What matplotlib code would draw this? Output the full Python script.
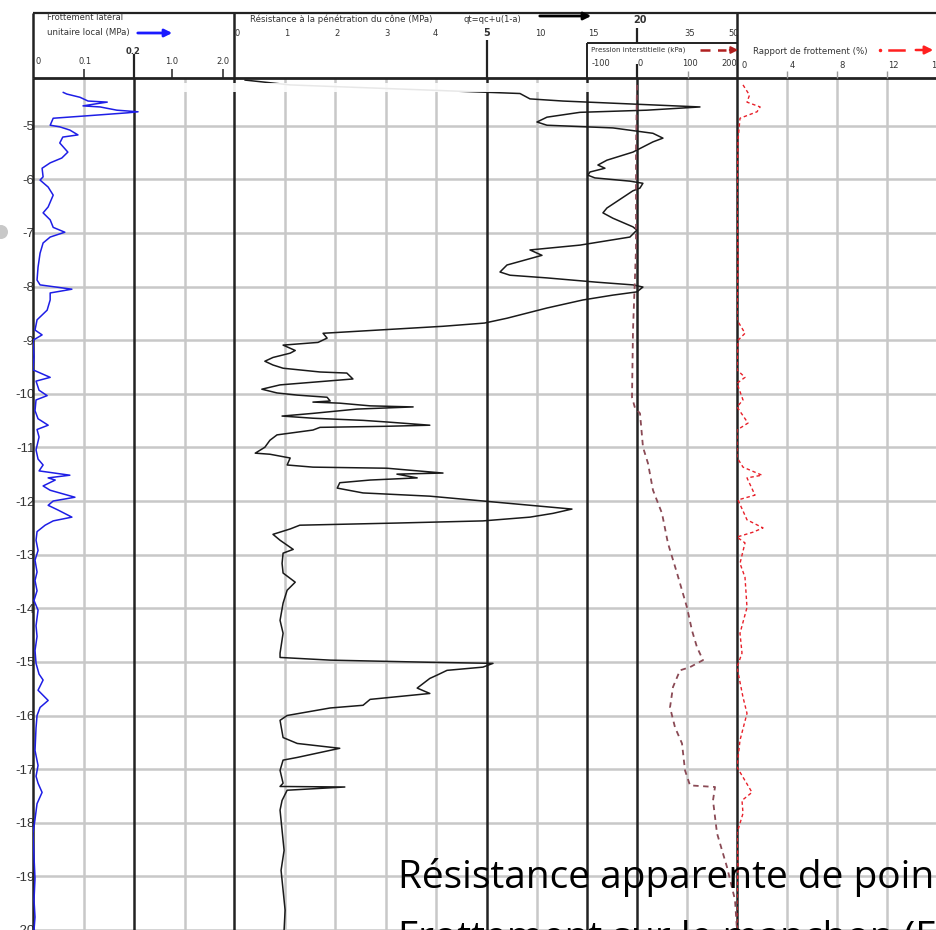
import numpy as np
import matplotlib
matplotlib.use("Agg")
from matplotlib import pyplot
from matplotlib.patches import Rectangle, Circle

W, H = 936, 930

# ---------------- data (elevation in m, negative downwards) ----------------
fs_depth = [-4.38, -4.41, -4.47, -4.54, -4.56, -4.60, -4.63, -4.65, -4.71, -4.74,
            -4.76, -4.82, -4.86, -4.99, -5.02, -5.08, -5.17, -5.21, -5.32, -5.49,
            -5.60, -5.69, -5.79, -5.95, -6.01, -6.14, -6.29, -6.51, -6.62, -6.75,
            -6.89, -6.98, -7.07, -7.18, -7.37, -7.63, -7.87, -7.96, -8.04, -8.11,
            -8.24, -8.43, -8.61, -8.80, -8.89, -8.99, -9.30, -9.54, -9.68, -9.75,
            -9.92, -10.02, -10.10, -10.30, -10.45, -10.57, -10.65, -10.79, -11.03, -11.20,
            -11.31, -11.42, -11.50, -11.55, -11.59, -11.70, -11.78, -11.91, -11.98, -12.06,
            -12.15, -12.28, -12.35, -12.43, -12.55, -12.71, -12.90, -13.08, -13.30, -13.46,
            -13.65, -13.83, -14.01, -14.30, -14.50, -14.76, -15.00, -15.20, -15.31, -15.50,
            -15.69, -15.82, -15.97, -16.20, -16.62, -16.90, -17.10, -17.23, -17.40, -17.61,
            -17.90, -18.16, -18.60, -19.00, -19.40, -19.72, -19.96]
fs_mpa = [0.060, 0.067, 0.093, 0.109, 0.147, 0.119, 0.099, 0.133, 0.166, 0.208,
          0.186, 0.099, 0.040, 0.034, 0.053, 0.073, 0.089, 0.059, 0.053, 0.069,
          0.057, 0.034, 0.018, 0.020, 0.014, 0.030, 0.040, 0.030, 0.020, 0.034,
          0.040, 0.063, 0.034, 0.020, 0.014, 0.010, 0.008, 0.014, 0.077, 0.034,
          0.034, 0.028, 0.008, 0.004, 0.018, 0.000, 0.002, 0.000, 0.034, 0.006,
          0.012, 0.028, 0.006, 0.004, 0.010, 0.030, 0.008, 0.012, 0.006, 0.010,
          0.020, 0.012, 0.073, 0.030, 0.044, 0.020, 0.034, 0.083, 0.040, 0.030,
          0.050, 0.077, 0.040, 0.024, 0.008, 0.006, 0.010, 0.004, 0.008, 0.004,
          0.008, 0.002, 0.010, 0.006, 0.008, 0.004, 0.006, 0.012, 0.020, 0.010,
          0.030, 0.014, 0.008, 0.006, 0.004, 0.010, 0.006, 0.010, 0.018, 0.008,
          0.004, 0.000, 0.002, 0.004, 0.002, 0.004, 0.002]

qc_depth = [-4.15, -4.24, -4.40, -4.50, -4.54, -4.58, -4.61, -4.65, -4.71, -4.75,
            -4.84, -4.93, -4.99, -5.04, -5.14, -5.23, -5.30, -5.49, -5.64, -5.73,
            -5.79, -5.86, -5.92, -5.97, -6.03, -6.07, -6.16, -6.21, -6.53, -6.62,
            -6.72, -6.88, -6.94, -7.07, -7.22, -7.31, -7.41, -7.59, -7.72, -7.78,
            -7.83, -7.91, -7.96, -8.00, -8.09, -8.15, -8.24, -8.39, -8.58, -8.67,
            -8.73, -8.86, -8.95, -9.03, -9.08, -9.18, -9.23, -9.31, -9.38, -9.45,
            -9.51, -9.58, -9.60, -9.71, -9.77, -9.82, -9.90, -9.97, -10.01, -10.05,
            -10.12, -10.14, -10.16, -10.21, -10.23, -10.27, -10.35, -10.40, -10.44, -10.48,
            -10.51, -10.57, -10.59, -10.61, -10.66, -10.75, -10.85, -10.98, -11.09, -11.11,
            -11.18, -11.31, -11.35, -11.37, -11.46, -11.48, -11.55, -11.59, -11.64, -11.74,
            -11.83, -11.89, -11.98, -12.06, -12.13, -12.21, -12.28, -12.35, -12.39, -12.43,
            -12.50, -12.60, -12.71, -12.88, -12.95, -13.14, -13.32, -13.49, -13.64, -13.88,
            -14.20, -14.44, -14.81, -14.89, -14.94, -14.98, -15.00, -15.07, -15.13, -15.22,
            -15.28, -15.46, -15.56, -15.67, -15.78, -15.83, -15.97, -16.06, -16.38, -16.49,
            -16.58, -16.75, -16.80, -16.99, -17.23, -17.29, -17.30, -17.36, -17.55, -17.73,
            -18.10, -18.48, -18.85, -19.22, -19.59, -19.96]
qc_mpa = [0.22, 1.11, 8.3, 9.3, 12.6, 17.6, 24.8, 38.9, 23.0, 14.3,
          11.0, 10.0, 11.0, 17.6, 24.8, 27.8, 24.8, 19.6, 17.0, 16.1,
          16.8, 15.3, 15.1, 15.8, 19.3, 21.8, 20.9, 19.6, 17.0, 16.6,
          17.6, 19.6, 20.0, 19.3, 14.3, 9.3, 10.5, 7.0, 6.3, 7.3,
          11.0, 16.0, 19.6, 21.8, 20.0, 17.6, 14.6, 11.0, 7.0, 4.95,
          4.13, 1.76, 1.84, 1.66, 0.97, 1.21, 1.11, 0.77, 0.61, 0.77,
          0.97, 1.70, 2.23, 2.35, 1.56, 0.91, 0.55, 0.85, 1.25, 1.84,
          1.90, 1.56, 2.09, 2.69, 3.54, 2.43, 1.56, 0.95, 1.56, 2.55,
          3.02, 3.87, 3.02, 1.70, 1.56, 0.85, 0.71, 0.61, 0.42, 0.71,
          1.11, 1.05, 1.56, 3.02, 4.13, 3.22, 3.62, 2.69, 2.09, 2.04,
          2.55, 3.87, 4.92, 9.3, 13.5, 11.6, 9.3, 4.92, 3.22, 1.30,
          1.11, 0.77, 0.91, 1.17, 0.97, 0.95, 0.97, 1.21, 1.05, 0.97,
          0.91, 0.97, 0.91, 0.91, 1.90, 3.87, 5.6, 4.92, 4.21, 4.01,
          3.87, 3.62, 3.87, 2.69, 2.55, 1.90, 1.05, 0.91, 0.97, 1.25,
          2.09, 1.25, 0.97, 0.91, 0.97, 0.91, 2.19, 1.05, 0.95, 0.91,
          0.95, 0.99, 0.93, 0.97, 1.01, 0.99]

u_depth = [-4.24, -5.45, -7.31, -8.80, -10.05, -10.25, -10.35, -10.98, -11.28, -11.78,
           -12.21, -12.77, -13.32, -13.96, -14.39, -14.70, -14.94, -15.07, -15.13, -15.44,
           -15.82, -16.19, -16.49, -16.99, -17.27, -17.30, -17.55, -18.16, -18.79, -19.40,
           -19.96]
u_kpa = [0, -2, -2, -8, -10, -4, 6, 12, 22, 32,
         50, 62, 80, 100, 110, 120, 132, 106, 86, 72,
         66, 76, 90, 96, 106, 156, 152, 160, 180, 196,
         200]

rf_depth = [-4.24, -4.43, -4.56, -4.65, -4.74, -4.86, -5.27, -6.38, -7.50, -8.61,
            -8.86, -8.99, -9.54, -9.68, -9.79, -10.10, -10.23, -10.53, -10.66, -11.17,
            -11.35, -11.50, -11.55, -11.87, -11.96, -12.33, -12.48, -12.56, -12.65, -12.76,
            -13.14, -13.40, -13.96, -14.44, -14.81, -15.07, -15.63, -15.93, -16.43, -16.93,
            -17.40, -17.55, -17.79, -18.16, -18.79, -19.40, -19.96]
rf_pct = [0.48, 1.0, 0.8, 1.85, 1.6, 0.24, 0.08, 0.0, 0.08, 0.0,
          0.64, 0.08, 0.0, 0.64, 0.0, 0.48, 0.0, 0.88, 0.0, 0.0,
          0.48, 2.0, 0.8, 1.44, 0.08, 0.8, 2.08, 1.28, 0.0, 0.64,
          0.24, 0.64, 0.8, 0.24, 0.4, 0.0, 0.48, 0.8, 0.24, 0.0,
          1.2, 0.4, 0.48, 0.0, 0.08, 0.0, 0.0]

depth_ticks = list(range(-5, -21, -1))
fs_labels = ['0', '0.1', '0.2', '1.0', '2.0']
qc_labels = ['0', '1', '2', '3', '4', '5', '10', '15', '20', '35', '50']
u_labels = ['-100', '0', '100', '200']
rf_labels = ['0', '4', '8', '12', '16']

QC_BREAKS = [0, 5, 20, 50]
QC_FRAC = [0, 0.503, 0.801, 1.0]

DEPTH_BOTTOM, DEPTH_TOP = -19.96, -4.13
GRAY = '#c8c8c8'
DARK = '#222222'
TXT = '#333333'


def box(x0, x1, y0=79, y1=930):
    return [x0 / W, (H - y1) / H, (x1 - x0) / W, (y1 - y0) / H]


def data_axes(x0, x1, xlim):
    ax = fig.add_axes(box(x0, x1))
    ax.set_facecolor('none')
    ax.set_ylim(DEPTH_BOTTOM, DEPTH_TOP)
    ax.set_xlim(*xlim)
    ax.set_xticks([])
    ax.set_yticks([])
    for s in ax.spines.values():
        s.set_visible(False)
    return ax


fig = pyplot.figure(figsize=(W / 100, H / 100), dpi=100)
fig.patch.set_facecolor('white')

# background: depth grid and labels
ax_bg = fig.add_axes(box(33, 936))
ax_bg.set_xlim(0, 1)
ax_bg.set_ylim(DEPTH_BOTTOM, DEPTH_TOP)
for d in depth_ticks:
    ax_bg.axhline(d, color=GRAY, lw=1.8, zorder=0)
ax_bg.set_yticks(depth_ticks)
ax_bg.set_yticklabels([str(d) for d in depth_ticks], family='Liberation Sans',
                      fontsize=9.5, color=TXT)
ax_bg.tick_params(axis='y', length=0, pad=-1)
ax_bg.set_xticks([])
for s in ax_bg.spines.values():
    s.set_visible(False)

# sleeve friction
ax_fs = data_axes(33, 234, (0, 0.398))
for v in (0.1, 0.3):
    ax_fs.axvline(v, color=GRAY, lw=1.8, zorder=1)
for v in (0, 0.2):
    ax_fs.axvline(v, color=DARK, lw=1.8, zorder=2, clip_on=False)
ax_fs.plot(fs_mpa, fs_depth, color='#1e1ee6', lw=1.1, zorder=3)

# cone resistance (piecewise scale)
ax_qc = data_axes(234, 737, (0, 50))
ax_qc.set_xscale('function',
                 functions=(lambda v: np.interp(v, QC_BREAKS, QC_FRAC),
                            lambda p: np.interp(p, QC_FRAC, QC_BREAKS)))
ax_qc.set_xlim(0, 50)
ax_qc.set_xticks([])
ax_qc.xaxis.set_minor_locator(matplotlib.ticker.NullLocator())
for v in (1, 2, 3, 4, 10, 35):
    ax_qc.axvline(v, color=GRAY, lw=1.8, zorder=1)
for v in (0, 5, 15, 20, 50):
    ax_qc.axvline(v, color=DARK, lw=1.8, zorder=2, clip_on=False)
ax_qc.plot(qc_mpa, qc_depth, color='#1a1a1a', lw=1.1, zorder=4)

# pore pressure
ax_u = data_axes(587, 737, (-100, 200))
ax_u.plot(u_kpa, u_depth, color='#8a4a55', lw=1.3, ls=(0, (3, 2.5)), zorder=3)

# friction ratio
ax_rf = data_axes(737, 936, (0, 15.92))
for v in (4, 8, 12):
    ax_rf.axvline(v, color=GRAY, lw=1.8, zorder=1)
ax_rf.plot(rf_pct, rf_depth, color='#e8202a', lw=1.0, ls=(0, (2.5, 2)), zorder=3)

# frame / header in pixel coordinates
fr = fig.add_axes([0, 0, 1, 1])
fr.set_xlim(0, W)
fr.set_ylim(H, 0)
fr.axis('off')
fr.set_facecolor('none')

fr.hlines(13, 33, 936, color=DARK, lw=1.6)
fr.hlines(78, 33, 936, color=DARK, lw=2)
fr.vlines([33, 234, 737], 13, 78, color=DARK, lw=1.8)
fr.hlines(43, 587, 737, color=DARK, lw=1.4)
fr.vlines(587, 43, 78, color=DARK, lw=1.4)
fr.vlines([134, 487], [54, 40], 78, color=DARK, lw=1.6)
fr.vlines(637, 28, 43, color=DARK, lw=1.6)
fr.vlines(637, 64, 78, color=DARK, lw=1.6)
fr.vlines([84, 172, 223], 69, 78, color=DARK, lw=1.1)
fr.vlines([688, 787, 837, 887], 71, 78, color='#999999', lw=1.0)

fs_x = [38, 85, 133, 172, 223]
for lab, x in zip(fs_labels, fs_x):
    bold = lab == '0.2'
    fr.text(x, 52 if bold else 61, lab, ha='center', va='center', fontsize=6,
            color=TXT, fontweight='bold' if bold else 'normal')
qc_x = [237, 287, 337, 387, 435, 487, 540, 593, 640, 690, 734]
for lab, x in zip(qc_labels, qc_x):
    bold = lab in ('5', '20')
    fr.text(x, 20 if lab == '20' else 33, lab, ha='center', va='center',
            fontsize=7 if bold else 6, color=TXT,
            fontweight='bold' if bold else 'normal')
u_x = [601, 640, 690, 729]
for lab, x in zip(u_labels, u_x):
    fr.text(x, 64, lab, ha='center', va='center', fontsize=6, color=TXT)
rf_x = [744, 792, 842, 893, 936]
for lab, x in zip(rf_labels, rf_x):
    fr.text(x, 66, lab, ha='center', va='center', fontsize=6, color=TXT)

fr.text(47, 18, 'Frottement latéral', fontsize=6, color=TXT, va='center')
fr.text(47, 33, 'unitaire local (MPa)', fontsize=6.2, color=TXT, va='center')
fr.annotate('', xy=(175, 33), xytext=(135, 33),
            arrowprops=dict(arrowstyle='-|>', color='#1a1aff', lw=2, mutation_scale=11))
fr.text(250, 19, 'Résistance à la pénétration du cône (MPa)', fontsize=6.2,
        color=TXT, va='center')
fr.text(463, 19, 'qt=qc+u(1-a)', fontsize=6, color=TXT, va='center')
fr.annotate('', xy=(594, 16), xytext=(537, 16),
            arrowprops=dict(arrowstyle='-|>', color='black', lw=2, mutation_scale=11))
fr.text(591, 50, 'Pression interstitielle (kPa)', fontsize=5.1, color=TXT, va='center')
fr.plot([700, 726], [50, 50], color='#b02020', lw=1.8, ls=(0, (4, 3)))
fr.annotate('', xy=(741, 50), xytext=(727, 50),
            arrowprops=dict(arrowstyle='-|>', color='#b02020', lw=1.5, mutation_scale=10))
fr.text(753, 52, 'Rapport de frottement (%)', fontsize=6.2, color=TXT, va='center')
fr.plot([880], [50], marker='o', ms=1.5, color='#ff2020')
fr.plot([889, 904], [50, 50], color='#ff2020', lw=1.8)
fr.annotate('', xy=(936, 50), xytext=(913, 50),
            arrowprops=dict(arrowstyle='-|>', color='#ff2020', lw=1.8, mutation_scale=12))

# slide overlay remnants
fr.add_patch(Rectangle((150, 83), 440, 9, facecolor='white', edgecolor='none', alpha=0.9))
fr.add_patch(Circle((1, 232), 7, facecolor='#c8c8c8', edgecolor='none'))
fr.text(398, 888, 'Résistance apparente de poin', fontsize=28, family='Open Sans',
        color='black', va='baseline', ha='left')
fr.text(398, 948, 'Frottement sur le manchon (F', fontsize=28, family='Open Sans',
        color='black', va='baseline', ha='left')

pyplot.savefig('out.png', dpi=100)
